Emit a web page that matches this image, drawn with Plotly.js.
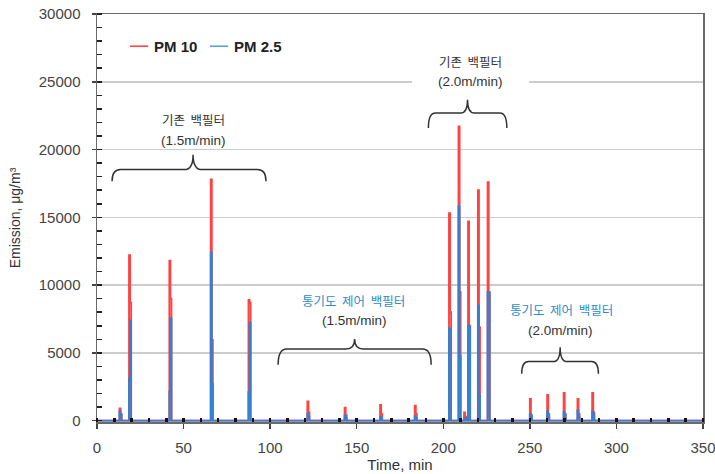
<!DOCTYPE html>
<html>
<head>
<meta charset="utf-8">
<script src="https://cdn.plot.ly/plotly-3.0.1.min.js"></script>
<style>html,body{margin:0;padding:0;background:#fff;}#chart{width:715px;height:474px;}</style>
</head>
<body>
<div id="chart"></div>
<script>
// Spike events (time, min) and the two consecutive readings at each spike
const spikeTime   = [13, 18.5, 41.8, 65.7, 87.5, 121.5, 143, 163.5, 183.5, 203.3, 208.8, 212, 214.3, 220, 225.6, 250, 260, 269.5, 277.5, 286];
const pm10First   = [900, 12200, 11800, 17800, 8900, 1420, 950, 1150, 1100, 15300, 21700, 600, 14700, 17000, 17600, 1600, 1900, 2050, 1600, 2050];
const pm10Second  = [500, 8700, 9000, 5950, 8700, 600, 400, 500, 500, 8000, 9500, 300, 7000, 6900, 9500, 400, 500, 500, 500, 600];
const pm25First   = [700, 3100, 2150, 12400, 2100, 515, 390, 300, 320, 6800, 15800, 200, 7000, 8500, 9500, 500, 700, 650, 750, 700];
const pm25Second  = [400, 7400, 7550, 2700, 7250, 300, 200, 200, 200, 6700, 4800, 100, 6900, 1900, 9400, 300, 300, 400, 300, 400];
const timeStart = 0, timeEnd = 350;

const seriesNames = ['PM 10', 'PM 2.5'];
const tickLabelsX = ['0', '50', '100', '150', '200', '250', '300', '350'];
const tickLabelsY = ['0', '5000', '10000', '15000', '20000', '25000', '30000'];
const xTicks = tickLabelsX.map(Number), yTicks = tickLabelsY.map(Number);

function buildSeries(first, second) {
  const x = [timeStart], y = [0];
  spikeTime.forEach((t, i) => {
    x.push(t, t + 0.6, t + 1.2);
    y.push(first[i], second[i], 0);
  });
  x.push(timeEnd); y.push(0);
  return {x, y};
}
const s10 = buildSeries(pm10First, pm10Second);
const s25 = buildSeries(pm25First, pm25Second);

const RED = '#ff4242', BLUE = '#347fd0', TXTBLUE = '#2f8ccc';

const traces = [
  {type: 'scatter', mode: 'lines', name: seriesNames[0], x: s10.x, y: s10.y,
   line: {color: RED, width: 1.9, shape: 'hv'}, showlegend: false},
  {type: 'scatter', mode: 'lines', name: seriesNames[1], x: s25.x, y: s25.y,
   line: {color: BLUE, width: 1.9, shape: 'hv'}, showlegend: false}
];

function brace(x0, x1, xc, ye, yh, yt, d) {
  return {type: 'path', xref: 'x', yref: 'y', layer: 'above',
    line: {color: '#333', width: 1.5},
    path: `M ${x0},${ye} Q ${x0},${yh} ${x0 + d},${yh} L ${xc - d},${yh} Q ${xc},${yh} ${xc},${yt} ` +
          `Q ${xc},${yh} ${xc + d},${yh} L ${x1 - d},${yh} Q ${x1},${yh} ${x1},${ye}`};
}

const korFont = '"Noto Sans CJK KR", "Noto Sans", sans-serif';
const arial = '"Liberation Sans", Arial, sans-serif';

function note(x, y, text, color, size, fam) {
  return {x: x, y: y, xref: 'x', yref: 'y', text: text, showarrow: false,
    xanchor: 'center', yanchor: 'middle',
    font: {family: fam || korFont, size: size || 12, color: color || '#333'}};
}

const layout = {
  width: 715, height: 474,
  margin: {l: 97, r: 12, t: 14, b: 52},
  paper_bgcolor: '#fff', plot_bgcolor: '#fff',
  showlegend: false,
  xaxis: {
    range: [0, 350], tickmode: 'linear', tick0: xTicks[0], dtick: xTicks[1] - xTicks[0],
    tickformat: 'd',
    ticks: 'outside', ticklen: 5, tickcolor: '#444', tickwidth: 1.5,
    showgrid: false, zeroline: false, showline: true, linecolor: '#6a6a6a', linewidth: 1.5, mirror: true,
    tickfont: {family: arial, size: 15, color: '#444'},
    ticklabelstandoff: 6, ticklabeloverflow: 'allow',
    minor: {tick0: 0, dtick: 10, ticks: 'inside', ticklen: 4, tickcolor: '#111', tickwidth: 2.5, showgrid: false},
    title: {text: 'Time, min', font: {family: arial, size: 15, color: '#333'}, standoff: 4}
  },
  yaxis: {
    range: [-100, 30000], tickmode: 'linear', tick0: yTicks[0], dtick: yTicks[1] - yTicks[0],
    tickformat: 'd',
    ticks: 'outside', ticklen: 4, tickcolor: '#444', tickwidth: 1.5,
    showgrid: true, gridcolor: '#cccccc', gridwidth: 1.5,
    zeroline: false, showline: true, linecolor: '#6a6a6a', linewidth: 1.5, mirror: true,
    tickfont: {family: arial, size: 15, color: '#444'},
    ticklabelstandoff: 8,
    minor: {tick0: 0, dtick: 1000, ticks: 'inside', ticklen: 5, tickcolor: '#222', tickwidth: 1.5, showgrid: false},
    title: {text: 'Emission, μg/m³', font: {family: arial, size: 14, color: '#333'}, standoff: 15}
  },
  shapes: [
    {type: 'rect', xref: 'x', yref: 'y', x0: 182, x1: 249.6, y0: 24600, y1: 25400,
     fillcolor: '#fff', line: {width: 0}, layer: 'between'},
    brace(8.7, 97.6, 55.5, 17660, 18520, 19620, 5),
    brace(191.4, 236.7, 214, 21590, 22690, 23670, 4),
    brace(104.6, 193, 148.8, 4120, 5290, 6030, 5),
    brace(245.3, 289.6, 267.5, 3455, 4360, 5420, 4),
    // legend samples
    {type: 'line', xref: 'paper', yref: 'paper', x0: 0.0545, x1: 0.0845, y0: 0.921, y1: 0.921,
     line: {color: RED, width: 1.6}},
    {type: 'line', xref: 'paper', yref: 'paper', x0: 0.1865, x1: 0.2165, y0: 0.921, y1: 0.921,
     line: {color: '#5aa2e0', width: 1.6}}
  ],
  annotations: [
    note(55.5, 22200, '기존  백필터', '#333', 12.5),
    note(55.5, 20650, '(1.5m/min)', '#333', 13.5, arial),
    note(215.5, 26460, '기존  백필터', '#333', 12.5),
    note(215.5, 24990, '(2.0m/min)', '#333', 13.5, arial),
    note(147.9, 8890, '통기도  제어  백필터', TXTBLUE, 12.5),
    note(148.5, 7420, '(1.5m/min)', '#333', 13.5, arial),
    note(268.4, 8230, '통기도  제어  백필터', TXTBLUE, 12.5),
    note(267.5, 6640, '(2.0m/min)', '#333', 13.5, arial),
    {xref: 'paper', yref: 'paper', x: 0.0905, y: 0.921, xanchor: 'left', yanchor: 'middle', showarrow: false,
     text: '<b>' + seriesNames[0] + '</b>', font: {family: arial, size: 15, color: '#222'}},
    {xref: 'paper', yref: 'paper', x: 0.2235, y: 0.921, xanchor: 'left', yanchor: 'middle', showarrow: false,
     text: '<b>' + seriesNames[1] + '</b>', font: {family: arial, size: 15, color: '#222'}}
  ]
};

Plotly.newPlot('chart', traces, layout, {displayModeBar: false, staticPlot: true});
</script>
</body>
</html>
